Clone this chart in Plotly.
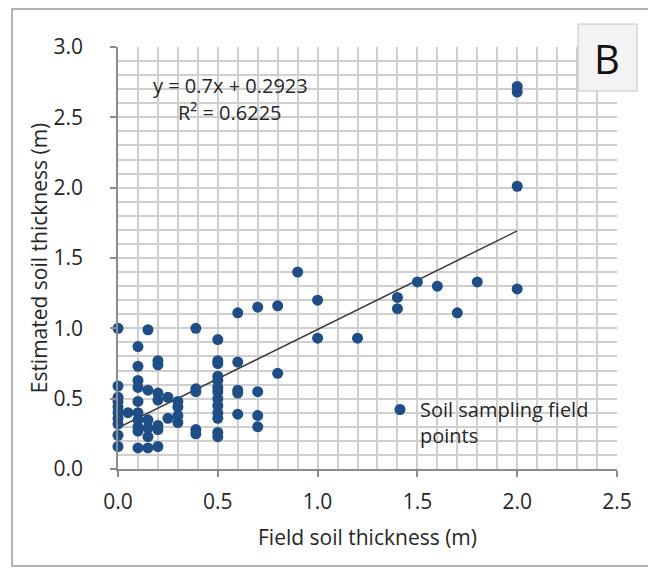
import plotly.graph_objects as go

# ---- data ----
field_x = (
    [0.0] * 10 + [0.05] + [0.1] * 10 + [0.15] * 6 + [0.2] * 7 + [0.25] * 2 + [0.3] * 4
    + [0.39] * 5 + [0.5] * 13 + [0.6] * 5 + [0.7] * 4 + [0.8] * 2 + [0.9] + [1.0] * 2
    + [1.2] + [1.4] * 2 + [1.5] + [1.6] + [1.7] + [1.8] + [2.0] * 4
)
estimated_y = (
    [1.0, 0.59, 0.51, 0.48, 0.44, 0.40, 0.36, 0.32, 0.24, 0.16]
    + [0.40]
    + [0.87, 0.73, 0.63, 0.58, 0.48, 0.40, 0.35, 0.30, 0.27, 0.15]
    + [0.99, 0.56, 0.35, 0.29, 0.23, 0.15]
    + [0.77, 0.74, 0.54, 0.49, 0.31, 0.28, 0.16]
    + [0.51, 0.36]
    + [0.48, 0.44, 0.38, 0.33]
    + [1.0, 0.57, 0.55, 0.28, 0.25]
    + [0.92, 0.77, 0.75, 0.66, 0.63, 0.58, 0.55, 0.50, 0.45, 0.40, 0.36, 0.26, 0.23]
    + [1.11, 0.76, 0.56, 0.54, 0.39]
    + [1.15, 0.55, 0.38, 0.30]
    + [1.16, 0.68]
    + [1.40]
    + [1.20, 0.93]
    + [0.93]
    + [1.22, 1.14]
    + [1.33]
    + [1.30]
    + [1.11]
    + [1.33]
    + [2.72, 2.68, 2.01, 1.28]
)
trend_slope = 0.7
trend_intercept = 0.2923
trend_x = [0.0, 2.0]
equation_line = "y = 0.7x + 0.2923"
r2_line = "R² = 0.6225"
series_name = "Soil sampling field<br>points"
x_title = "Field soil thickness (m)"
y_title = "Estimated soil thickness (m)"
panel_label = "B"

FONT = "Open Sans"
TXT = "#262626"
GRID = "#cfcfcf"

# page body has an 8px margin; positions below are screen pixels
OFF = 8
W, H = 656 - OFF, 568 - OFF
L, R, T, B = 118, 617, 47, 469   # plot area on screen
def px(xp):
    return (xp - L) / (R - L)
def py(yp):
    return (B - yp) / (B - T)

fig = go.Figure()

fig.add_trace(go.Scatter(
    x=trend_x,
    y=[trend_slope * v + trend_intercept for v in trend_x],
    mode="lines",
    line=dict(color="#3a3a3a", width=1.5),
    showlegend=False,
    hoverinfo="skip",
))

fig.add_trace(go.Scatter(
    x=field_x, y=estimated_y, mode="markers",
    name=series_name,
    marker=dict(color="#1f4d85", size=11, line=dict(width=0)),
    cliponaxis=False,
))

shapes = [
    # outer frame
    dict(type="rect", xref="paper", yref="paper",
         x0=px(12), x1=px(650), y0=py(566), y1=py(9),
         line=dict(color="#9a9a9a", width=1.5), fillcolor="rgba(0,0,0,0)", layer="below"),
    # equation box
    dict(type="rect", xref="paper", yref="paper",
         x0=px(142), x1=px(320), y0=py(130), y1=py(70),
         line=dict(width=0), fillcolor="white", layer="between"),
    # legend box
    dict(type="rect", xref="paper", yref="paper",
         x0=px(357), x1=px(599), y0=py(457), y1=py(390),
         line=dict(width=0), fillcolor="white", layer="between"),
    # panel label box
    dict(type="rect", xref="paper", yref="paper",
         x0=px(578), x1=px(637), y0=py(91), y1=py(24),
         line=dict(color="#c4c4c4", width=1), fillcolor="#f3f3f3", layer="above"),
]

annotations = [
    dict(xref="paper", yref="paper", x=px(230), y=py(85), text=equation_line,
         showarrow=False, font=dict(family=FONT, size=20, color=TXT),
         xanchor="center", yanchor="middle"),
    dict(xref="paper", yref="paper", x=px(230), y=py(113), text=r2_line,
         showarrow=False, font=dict(family=FONT, size=20, color=TXT),
         xanchor="center", yanchor="middle"),
    dict(xref="paper", yref="paper", x=px(607), y=py(58), text=panel_label,
         showarrow=False, font=dict(family=FONT, size=40, color="#111111"),
         xanchor="center", yanchor="middle"),
]

axis_common = dict(
    showline=True, linecolor="#8c8c8c", linewidth=1.5,
    ticks="outside", ticklen=6, tickcolor="#8c8c8c", tickwidth=1.5,
    showgrid=True, gridcolor=GRID, gridwidth=1.6,
    minor=dict(dtick=0.1, showgrid=True, gridcolor=GRID, gridwidth=1.6, ticks=""),
    tickfont=dict(family=FONT, size=21, color=TXT),
    zeroline=False, mirror=False,
)

fig.update_xaxes(range=[0, 2.5], dtick=0.5, tickformat=".1f",
                 title=dict(text=x_title, font=dict(family=FONT, size=21, color=TXT), standoff=16),
                 ticklabelstandoff=7, **axis_common)
fig.update_yaxes(range=[0, 3.0], dtick=0.5, tickformat=".1f",
                 title=dict(text=y_title, font=dict(family=FONT, size=21, color=TXT), standoff=0),
                 ticklabelstandoff=23, **axis_common)

fig.update_layout(
    width=W, height=H,
    margin=dict(l=L - OFF, r=W - (R - OFF), t=T - OFF, b=H - (B - OFF)),
    paper_bgcolor="white", plot_bgcolor="white",
    shapes=shapes, annotations=annotations,
    showlegend=True,
    legend=dict(x=px(380), y=py(390), xanchor="left", yanchor="top",
                bgcolor="rgba(0,0,0,0)", font=dict(family=FONT, size=20, color=TXT),
                itemsizing="trace", tracegroupgap=0, valign="top"),
)

fig.write_html("out.html")
